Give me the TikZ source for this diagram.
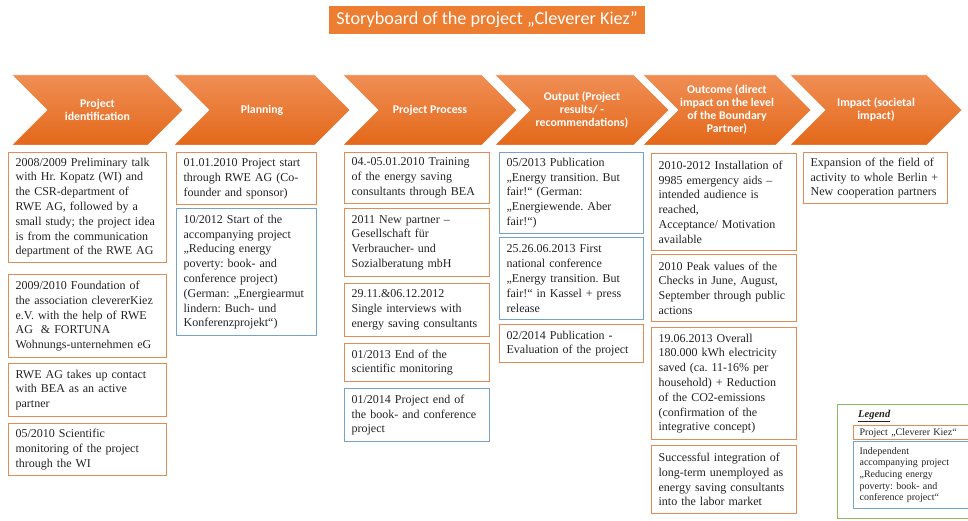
\documentclass[tikz,border=0pt]{standalone}
\usepackage{fontspec}
\setmainfont{Liberation Serif}
\newfontfamily\calibri{Carlito}
\usetikzlibrary{shapes.symbols}

\definecolor{rwe}{RGB}{237,125,49}
\definecolor{chevtop}{RGB}{240,142,84}
\definecolor{chevbot}{RGB}{227,104,26}
\definecolor{kiezline}{RGB}{226,140,86}
\definecolor{bookline}{RGB}{118,162,207}
\definecolor{legline}{RGB}{140,188,96}
\definecolor{ink}{RGB}{35,35,35}

\begin{document}
\begin{tikzpicture}[x=1pt,y=-1pt,
  stage/.style={signal, signal from=west, signal to=east, minimum height=70pt,
    top color=chevtop, bottom color=chevbot, draw=white, text=white, align=center,
    inner sep=0pt, font=\calibri\bfseries\fontsize{11.8}{13}\selectfont},
  kiez/.style={draw=kiezline, line width=1.2pt, anchor=north west, inner xsep=7pt,
    inner ysep=2pt, align=left, text=ink, font=\frenchspacing\fontsize{12}{14.8}\selectfont},
  book/.style={kiez, draw=bookline}]
  \useasboundingbox (0,0) rectangle (968,521);
  \clip (0,0) rectangle (968,521);

  \node[fill=rwe, text=white, minimum width=316pt, minimum height=28pt,
    font=\calibri\fontsize{18.2}{20}\selectfont] (Title) at (487,20)
    {Storyboard of the project „Cleverer Kiez”};

  % the six stages
  \node[stage, minimum width=171pt] (Ident) at (97.5,110) {Project\\identification};
  \node[stage, minimum width=176pt] (Planning) at (262,110) {Planning};
  \node[stage, minimum width=174pt] (Process) at (430,110) {Project Process};
  \node[stage, minimum width=174pt] (Output) at (582,110) {Output (Project\\results/ -\\recommendations)};
  \node[stage, minimum width=168pt] (Outcome) at (727,110) {Outcome (direct\\impact on the level\\of the Boundary\\Partner)};
  \node[stage, minimum width=172pt] (Impact) at (876,110) {Impact (societal\\impact)};

  % project identification
  \node[kiez, text width=144pt, minimum height=110pt] (Talk) at (8,152)
    {2008/2009 Preliminary talk\\with Hr. Kopatz (WI) and\\the CSR-department of\\RWE AG, followed by a\\small study; the project idea\\is from the communication\\department of the RWE AG};
  \node[kiez, text width=144pt, minimum height=83pt] (Foundation) at (8,274)
    {2009/2010 Foundation of\\the association clevererKiez\\e.V. with the help of RWE\\AG~~\& FORTUNA\\Wohnungs-unternehmen eG};
  \node[kiez, text width=144pt, minimum height=53pt] (Contact) at (8,363)
    {RWE AG takes up contact\\with BEA as an active\\partner};
  \node[kiez, text width=144pt, minimum height=52pt] (Monitoring) at (8,423)
    {05/2010 Scientific\\monitoring of the project\\through the WI};

  % planning
  \node[kiez, text width=126pt, minimum height=52pt] (Start) at (176,152)
    {01.01.2010 Project start\\through RWE AG (Co-\\founder and sponsor)};
  \node[book, text width=126pt, minimum height=127pt] (Accomp) at (176,208)
    {10/2012 Start of the\\accompanying project\\„Reducing energy\\poverty: book- and\\conference project)\\(German: „Energiearmut\\lindern: Buch- und\\Konferenzprojekt“)};

  % project process
  \node[kiez, text width=131pt, minimum height=51pt] (Training) at (344,152)
    {04.-05.01.2010 Training\\of the energy saving\\consultants through BEA};
  \node[kiez, text width=131pt, minimum height=68pt] (Partner) at (344,208)
    {2011 New partner –\\Gesellschaft für\\Verbraucher- und\\Sozialberatung mbH};
  \node[kiez, text width=131pt, minimum height=53pt] (Interviews) at (344,283)
    {29.11.\&06.12.2012\\Single interviews with\\energy saving consultants};
  \node[kiez, text width=131pt, minimum height=38pt] (MonEnd) at (344,343)
    {01/2013 End of the\\scientific monitoring};
  \node[book, text width=131pt, minimum height=53pt] (BookEnd) at (344,388)
    {01/2014 Project end of\\the book- and conference\\project};

  % output
  \node[book, text width=130pt, minimum height=81pt] (Publication) at (499,152)
    {05/2013 Publication\\„Energy transition. But\\fair!“ (German:\\„Energiewende. Aber\\fair!“)};
  \node[book, text width=130pt, minimum height=82pt] (Conference) at (499,237)
    {25.26.06.2013 First\\national conference\\„Energy transition. But\\fair!“ in Kassel + press\\release};
  \node[kiez, text width=130pt, minimum height=38pt] (Evaluation) at (499,324)
    {02/2014 Publication -\\Evaluation of the project};

  % outcome
  \node[kiez, text width=131pt, minimum height=97pt] (Aids) at (651,153)
    {2010-2012 Installation of\\9985 emergency aids –\\intended audience is\\reached,\\Acceptance/ Motivation\\available};
  \node[kiez, text width=131pt, minimum height=67pt] (Peak) at (651,254)
    {2010 Peak values of the\\Checks in June, August,\\September through public\\actions};
  \node[kiez, text width=131pt, minimum height=112pt] (Saved) at (651,327)
    {19.06.2013 Overall\\180.000 kWh electricity\\saved (ca. 11-16\% per\\household) + Reduction\\of the CO2-emissions\\(confirmation of the\\integrative concept)};
  \node[kiez, text width=131pt, minimum height=68pt] (Labor) at (651,445)
    {Successful integration of\\long-term unemployed as\\energy saving consultants\\into the labor market};

  % impact
  \node[kiez, text width=130pt, minimum height=51pt] (Expansion) at (803,152)
    {Expansion of the field of\\activity to whole Berlin +\\New cooperation partners};

  % legend
  \node[draw=legline, line width=1.2pt, anchor=north west, minimum width=160pt,
    minimum height=114pt] (LegendBox) at (837,404) {};
  \node[anchor=west, inner sep=0pt, text=ink, font=\fontsize{10.5}{12}\selectfont]
    (Legend) at (858,416) {\underline{\textbf{\textit{Legend}}}};
  \node[kiez, inner xsep=6pt, text width=125pt, minimum height=14pt, inner ysep=0pt,
    font=\frenchspacing\fontsize{10}{11.6}\selectfont] (LegKiez) at (853,425) {Project „Cleverer Kiez“};
  \node[book, inner xsep=6pt, text width=125pt, minimum height=67pt,
    font=\frenchspacing\fontsize{10}{11.6}\selectfont] (LegBook) at (853,441)
    {Independent\\accompanying project\\„Reducing energy\\poverty: book- and\\conference project“};
\end{tikzpicture}
\end{document}
